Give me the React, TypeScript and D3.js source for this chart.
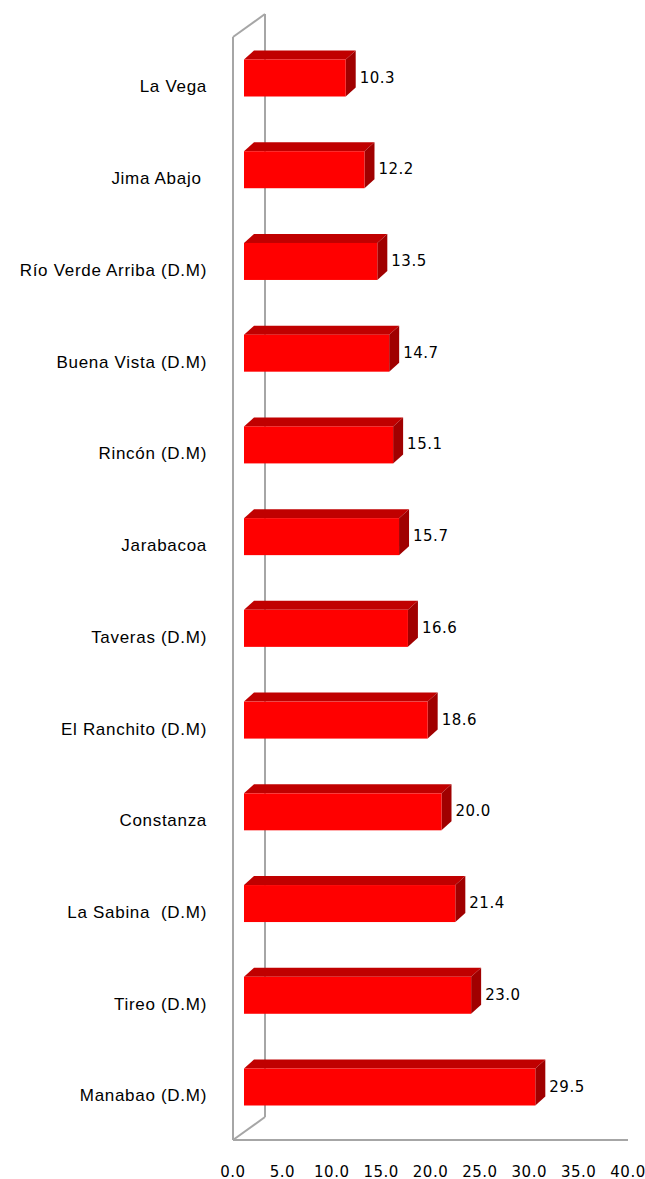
import React from "react";
import * as d3 from "d3";

const categories = [
  "La Vega",
  "Jima Abajo ",
  "Río Verde Arriba (D.M)",
  "Buena Vista (D.M)",
  "Rincón (D.M)",
  "Jarabacoa",
  "Taveras (D.M)",
  "El Ranchito (D.M)",
  "Constanza",
  "La Sabina  (D.M)",
  "Tireo (D.M)",
  "Manabao (D.M)",
];
const values = [10.3, 12.2, 13.5, 14.7, 15.1, 15.7, 16.6, 18.6, 20.0, 21.4, 23.0, 29.5];
const ticks = [0, 5, 10, 15, 20, 25, 30, 35, 40];

export default function App() {
  const W = 645, H = 1179;
  const x = d3.scaleLinear().domain([0, 40]).range([233, 628]);
  const y = d3.scalePoint<string>().domain(categories).range([78, 1087]);
  const barOff = 11; // bars sit inside the depth
  const bh = 37;
  const ddx = 10, ddy = -9; // bar depth
  const wdx = 32, wdy = -23; // wall depth
  const wallTop = 37, floorY = 1140;
  const grey = "#a6a6a6";
  const font = "'Liberation Sans', Arial, sans-serif";
  const numFont = "'DejaVu Sans', sans-serif";
  return (
    <svg width={W} height={H} style={{ position: "absolute", left: 0, top: 0 }}>
      <rect width={W} height={H} fill="#fff" />
      {/* walls */}
      <g stroke={grey} strokeWidth={2} fill="none">
        <line x1={x(0)} y1={wallTop} x2={x(0)} y2={floorY} />
        <line x1={x(0)} y1={wallTop} x2={x(0) + wdx} y2={wallTop + wdy} />
        <line x1={x(0) + wdx} y1={wallTop + wdy} x2={x(0) + wdx} y2={floorY + wdy} />
        <line x1={x(0)} y1={floorY} x2={x(0) + wdx} y2={floorY + wdy} />
        <line x1={x(0)} y1={floorY} x2={x(40)} y2={floorY} />
      </g>
      {categories.map((c, i) => {
        const cy = y(c)!;
        const x0 = x(0) + barOff;
        const x1 = x(values[i]) + barOff;
        const top = cy - bh / 2;
        const bot = cy + bh / 2;
        return (
          <g key={c}>
            <polygon
              points={`${x0},${top} ${x0 + ddx},${top + ddy} ${x1 + ddx},${top + ddy} ${x1},${top}`}
              fill="#c00000"
            />
            <polygon
              points={`${x1},${top} ${x1 + ddx},${top + ddy} ${x1 + ddx},${bot + ddy} ${x1},${bot}`}
              fill="#a00000"
            />
            <rect x={x0} y={top} width={x1 - x0} height={bh} fill="#ff0000" />
            <text
              x={x1 + ddx + 4}
              y={cy}
              dominantBaseline="middle"
              fontFamily={numFont}
              fontSize={15}
              letterSpacing={0.5}
              fill="#000"
            >
              {values[i].toFixed(1)}
            </text>
            <text
              x={207}
              y={cy + 10}
              dominantBaseline="middle"
              textAnchor="end"
              fontFamily={font}
              fontSize={17}
              letterSpacing={0.7}
              style={{ whiteSpace: "pre" }}
              fill="#000"
            >
              {c}
            </text>
          </g>
        );
      })}
      {ticks.map((t) => (
        <text
          key={t}
          x={x(t)}
          y={1172}
          dominantBaseline="middle"
          textAnchor="middle"
          fontFamily={numFont}
          fontSize={15}
          letterSpacing={0.5}
          fill="#000"
        >
          {t.toFixed(1)}
        </text>
      ))}
    </svg>
  );
}
